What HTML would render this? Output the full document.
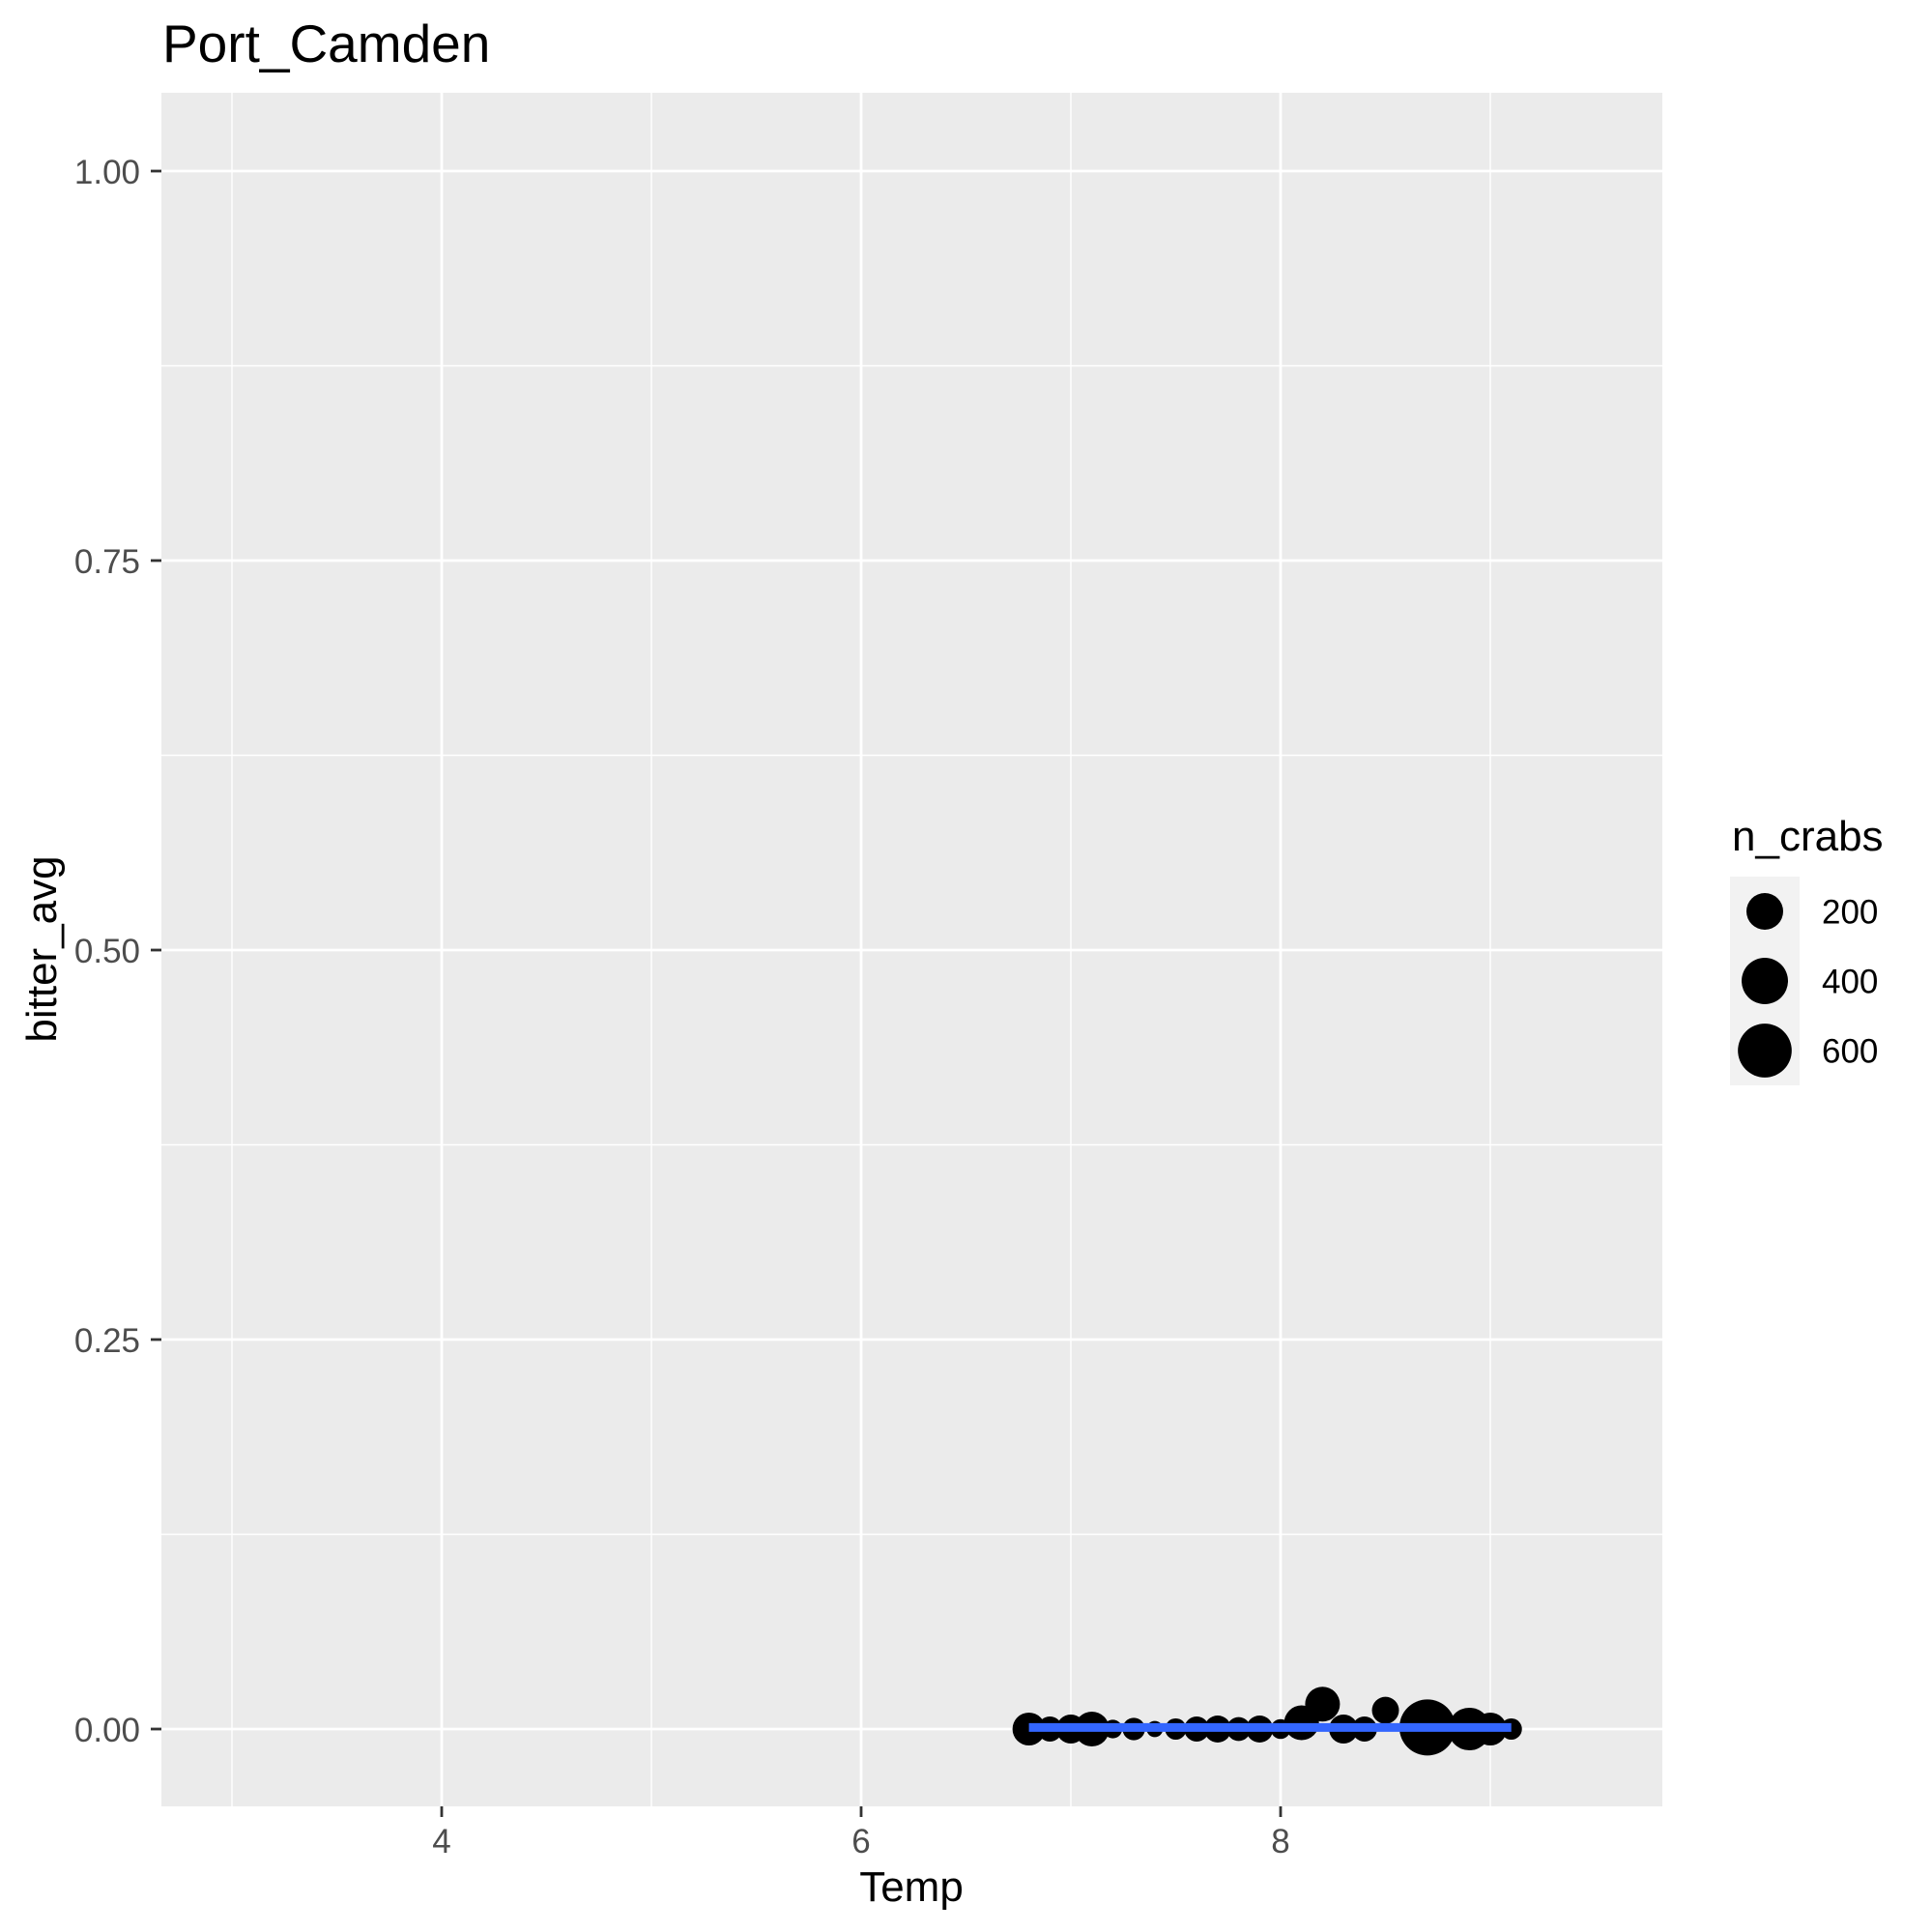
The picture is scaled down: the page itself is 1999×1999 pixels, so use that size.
<!DOCTYPE html>
<html><head><meta charset="utf-8"><style>
html,body{margin:0;padding:0;background:#fff;}
svg{display:block;font-family:"Liberation Sans",Arial,sans-serif;}
</style></head><body>
<svg id="chart" width="1999" height="1999" viewBox="0 0 1999 1999" xmlns="http://www.w3.org/2000/svg">
<rect x="0" y="0" width="1999" height="1999" fill="#ffffff"/>
<text x="168" y="64" font-size="55" fill="#000">Port_Camden</text>
<rect x="167" y="96" width="1553" height="1773" fill="#EBEBEB"/>
<g id="grid"></g>
<g id="axes"></g>
<g id="marks"></g>
<text x="943" y="1967" font-size="44" text-anchor="middle" fill="#000">Temp</text>
<text x="0" y="0" font-size="44" text-anchor="middle" fill="#000" transform="translate(58,982) rotate(-90)">bitter_avg</text>
<g id="legend">
<text x="1792" y="880" font-size="44" fill="#000">n_crabs</text>
<rect x="1790" y="907" width="72" height="216" fill="#F2F2F2"/>
</g>
</svg>
<script>
const temps = [6.8,6.9,7.0,7.1,7.2,7.3,7.4,7.5,7.6,7.7,7.8,7.9,8.0,8.1,8.2,8.3,8.4,8.5,8.7,8.9,9.0,9.1];
const bitter = [0,0,0,0,0,0,0,0,0,0,0,0,0,0.004,0.016,0,0,0.012,0.001,0,0,0];
const ncrabs = [139,50,89,168,10,30,3,23,50,68,40,68,15,168,168,89,50,68,669,312,139,23];
const xTicks = [4,6,8];
const xMinor = [3,5,7,9];
const yTicks = [0,0.25,0.5,0.75,1];
const yTickLabels = ["0.00","0.25","0.50","0.75","1.00"];
const yMinor = [0.125,0.375,0.625,0.875];
const legendValues = [200,400,600];
const fitStart = [6.8,0.001];
const fitEnd = [9.1,0.001];

const NS = "http://www.w3.org/2000/svg";
const PL = 167, PR = 1720, PT = 96, PB = 1869;
function xs(v){ return 1325 + (v - 8) * 217; }
function ys(v){ return 1789 - v * 1612; }
function rs(n){ return 6.94 + 0.853 * Math.sqrt(n); }
function mk(tag, attrs, parent){
  const e = document.createElementNS(NS, tag);
  for (const k in attrs) e.setAttribute(k, attrs[k]);
  parent.appendChild(e);
  return e;
}
const grid = document.getElementById('grid');
const axes = document.getElementById('axes');
const marks = document.getElementById('marks');

yMinor.forEach(v => {
  const l = mk('line', {x1:PL, x2:PR, y1:ys(v), y2:ys(v), stroke:'#fff', 'stroke-width':1.4}, grid);
  
  
});
xMinor.forEach(v => {
  const l = mk('line', {x1:xs(v), x2:xs(v), y1:PT, y2:PB, stroke:'#fff', 'stroke-width':1.4}, grid);
  
  
});
yTicks.forEach((v, i) => {
  const l = mk('line', {x1:PL, x2:PR, y1:ys(v), y2:ys(v), stroke:'#fff', 'stroke-width':2.8}, grid);
  
  
  const t = mk('line', {x1:156, x2:PL, y1:ys(v), y2:ys(v), stroke:'#333', 'stroke-width':2.8}, axes);
  
  
  const tx = mk('text', {x:145, y:ys(v) + 13, 'font-size':35, fill:'#4D4D4D', 'text-anchor':'end'}, axes);
  tx.textContent = yTickLabels[i];
  
  
});
xTicks.forEach(v => {
  const l = mk('line', {x1:xs(v), x2:xs(v), y1:PT, y2:PB, stroke:'#fff', 'stroke-width':2.8}, grid);
  
  
  const t = mk('line', {x1:xs(v), x2:xs(v), y1:PB, y2:PB + 11, stroke:'#333', 'stroke-width':2.8}, axes);
  
  
  const tx = mk('text', {x:xs(v), y:1917, 'font-size':35, fill:'#4D4D4D', 'text-anchor':'middle'}, axes);
  tx.textContent = String(v);
  
  
});
temps.forEach((t, i) => {
  const c = mk('circle', {cx:xs(t), cy:ys(bitter[i]), r:rs(ncrabs[i]), fill:'#000'}, marks);
  
  
});
const fit = mk('line', {x1:xs(fitStart[0]), y1:ys(fitStart[1]), x2:xs(fitEnd[0]), y2:ys(fitEnd[1]), stroke:'#3366FF', 'stroke-width':9}, marks);



const legend = document.getElementById('legend');
legendValues.forEach((v, i) => {
  const cy = 943 + i * 72;
  const c = mk('circle', {cx:1826, cy:cy, r:rs(v), fill:'#000'}, legend);
  
  
  const t = mk('text', {x:1885, y:cy + 12.5, 'font-size':35, fill:'#000'}, legend);
  t.textContent = String(v);
  
  
});
</script>
</body></html>
